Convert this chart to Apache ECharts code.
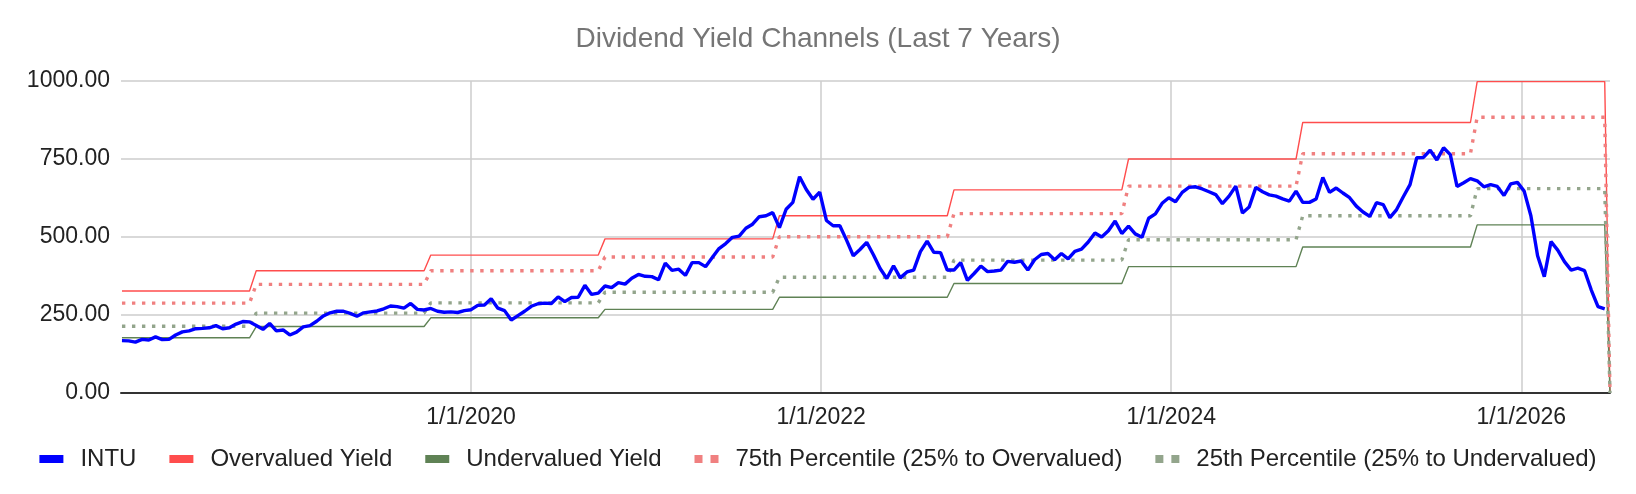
<!DOCTYPE html>
<html><head><meta charset="utf-8">
<script src="https://cdn.jsdelivr.net/npm/echarts@6/dist/echarts.min.js"></script>
<style>html,body{margin:0;padding:0;background:#fff}#c{width:1636px;height:494px}</style>
</head><body><div id="c"></div>
<script>
// ---- data ----
const FIRST_DATE = '2018-01-03';   // first bi-weekly observation
const STEP_DAYS = 14;              // bi-weekly observations
const END_DATE = '2026-07-05';     // trailing empty row (all channels drop to 0)

const intuPrice = [
  168,167,163,172,170,180,171,172,186,196,
  199,206,207,209,216,206,209,221,229,228,
  216,204,223,199,202,186,195,212,216,230,
  247,257,262,262,255,246,257,260,263,270,
  279,277,272,287,268,266,271,262,259,260,
  258,264,267,281,282,302,272,264,234,248,
  262,278,286,288,287,308,293,306,307,345,
  316,320,343,338,354,349,368,380,374,373,
  363,416,393,397,377,418,418,405,434,463,
  479,499,503,528,541,565,568,578,530,589,
  611,693,652,621,644,553,536,536,490,440,
  460,483,443,399,367,408,369,388,394,453,
  487,451,450,394,394,418,361,383,407,389,
  391,394,422,419,423,394,427,444,447,427,
  447,430,454,461,484,513,500,520,551,511,
  535,510,499,560,574,608,626,613,643,659,
  661,654,645,636,607,631,663,577,596,659,
  645,635,631,622,615,647,611,611,622,691,
  643,657,641,626,599,580,566,610,604,562,
  588,629,668,754,755,778,747,786,764,662,
  674,687,680,661,668,662,633,670,675,647,
  568,440,373,485,458,421,394,400,392,330,
  277,270
];

const levelChangeDates = ['2018-10-01','2019-10-01','2020-10-01','2021-10-01','2022-10-01','2023-10-01','2024-10-01','2025-10-01'];
const overvaluedLevels  = [327, 392, 442, 494, 568, 651, 750, 867, 998];
const p75Levels         = [288, 348, 392, 436, 501, 575, 663, 767, 884];
const p25Levels         = [214, 256, 289, 323, 371, 426, 491, 568, 655];
const undervaluedLevels = [177, 213, 241, 268, 307, 351, 405, 468, 539];

const seriesNames = ['INTU', 'Overvalued Yield', 'Undervalued Yield', '75th Percentile (25% to Overvalued)', '25th Percentile (25% to Undervalued)'];
const xTickYears = [2020, 2022, 2024, 2026];
const xTickLabels = ['1/1/2020', '1/1/2022', '1/1/2024', '1/1/2026'];

// ---- helpers ----
const DAY = 86400000;
const parseDate = s => new Date(s + 'T00:00:00Z').getTime();
function toYear(t) {
  const y = new Date(t).getUTCFullYear();
  const a = Date.UTC(y, 0, 1), b = Date.UTC(y + 1, 0, 1);
  return y + (t - a) / (b - a);
}
const t0 = parseDate(FIRST_DATE);
const endT = parseDate(END_DATE);
const dates = intuPrice.map((_, i) => t0 + i * STEP_DAYS * DAY);
const xs = dates.map(toYear);
const changeT = levelChangeDates.map(parseDate);
function levelAt(levels, t) { let k = 0; while (k < changeT.length && t >= changeT[k]) k++; return levels[k]; }
function stepData(levels) {
  const d = dates.map((t, i) => [xs[i], levelAt(levels, t)]);
  d.push([toYear(endT), 0]);
  return d;
}

const FONT = '"Liberation Sans", Arial, sans-serif';
const colors = { intu: '#0000ff', over: '#ff4d4d', under: '#5f8255', p75: '#f08080', p25: '#93a58c' };
const dotsIcon = 'path://M0,0h8v8h-8z M16,0h8v8h-8z';

const chart = echarts.init(document.getElementById('c'), null, { renderer: 'canvas' });
chart.setOption({
  animation: false,
  backgroundColor: '#fff',
  title: {
    text: 'Dividend Yield Channels (Last 7 Years)',
    left: 'center', top: 20,
    textStyle: { fontFamily: FONT, fontSize: 28, fontWeight: 'normal', color: '#757575' }
  },
  legend: {
    top: 442, left: 'center',
    itemWidth: 24, itemHeight: 8, itemGap: 33,
    textStyle: { fontFamily: FONT, fontSize: 24, color: '#222', padding: [0, 0, 0, 12] },
    data: [
      { name: seriesNames[0], icon: 'rect', itemStyle: { color: colors.intu, borderWidth: 0 } },
      { name: seriesNames[1], icon: 'rect', itemStyle: { color: colors.over, borderWidth: 0 } },
      { name: seriesNames[2], icon: 'rect', itemStyle: { color: colors.under, borderWidth: 0 } },
      { name: seriesNames[3], icon: dotsIcon, itemStyle: { color: colors.p75, borderWidth: 0 } },
      { name: seriesNames[4], icon: dotsIcon, itemStyle: { color: colors.p25, borderWidth: 0 } }
    ]
  },
  grid: { left: 121, right: 26, top: 81, bottom: 101, containLabel: false },
  xAxis: {
    type: 'value', min: 2018, max: toYear(endT), interval: 2,
    axisLine: { show: true, lineStyle: { color: '#333', width: 2 } },
    axisTick: { show: false },
    splitLine: { show: true, showMinLine: false, showMaxLine: false, lineStyle: { color: '#cccccc', width: 1.5 } },
    axisLabel: {
      margin: 13, fontFamily: FONT, fontSize: 23, color: '#222',
      showMinLabel: false, showMaxLabel: false,
      formatter: v => { const i = xTickYears.findIndex(y => Math.abs(y - v) < 1e-6); return i >= 0 ? xTickLabels[i] : ''; }
    }
  },
  yAxis: {
    type: 'value', min: 0, max: 1000, interval: 250,
    axisLine: { show: false }, axisTick: { show: false },
    splitLine: { show: true, lineStyle: { color: '#cccccc', width: 1.5 } },
    axisLabel: { margin: 11, fontFamily: FONT, fontSize: 23, color: '#222', formatter: v => v.toFixed(2) }
  },
  series: [
    { name: seriesNames[0], type: 'line', z: 4, symbol: 'none', color: colors.intu,
      lineStyle: { color: colors.intu, width: 3.4 }, data: dates.map((t, i) => [xs[i], intuPrice[i]]) },
    { name: seriesNames[1], type: 'line', z: 3, symbol: 'none', color: colors.over,
      lineStyle: { color: colors.over, width: 1.4 }, data: stepData(overvaluedLevels) },
    { name: seriesNames[2], type: 'line', z: 3, symbol: 'none', color: colors.under,
      lineStyle: { color: colors.under, width: 1.4 }, data: stepData(undervaluedLevels) },
    { name: seriesNames[3], type: 'line', z: 3, symbol: 'none', color: colors.p75,
      lineStyle: { color: colors.p75, width: 3.4, type: [3.4, 6.6], cap: 'butt' }, data: stepData(p75Levels) },
    { name: seriesNames[4], type: 'line', z: 3, symbol: 'none', color: colors.p25,
      lineStyle: { color: colors.p25, width: 3.4, type: [3.4, 6.6], cap: 'butt' }, data: stepData(p25Levels) }
  ]
});
</script></body></html>
